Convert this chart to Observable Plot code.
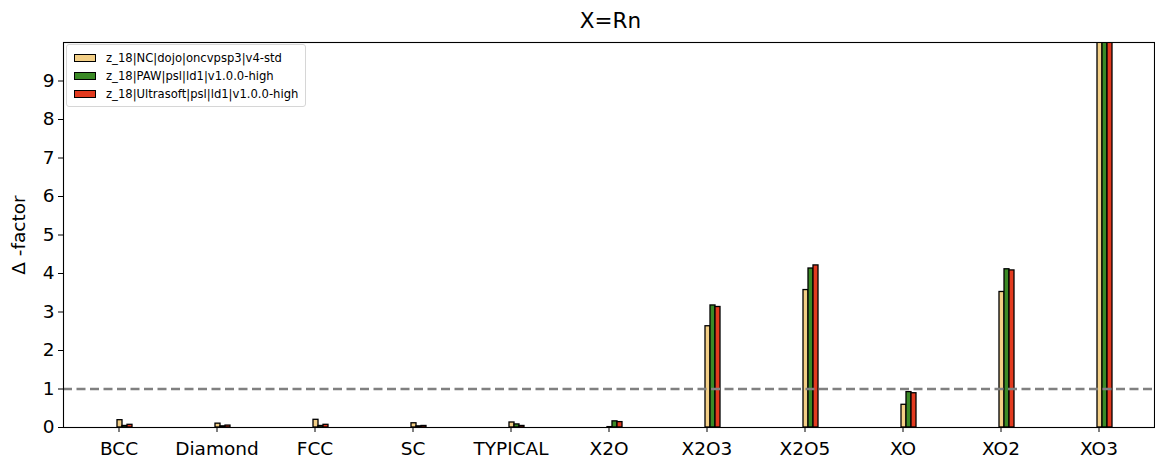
<!DOCTYPE html>
<html>
<head>
<meta charset="utf-8">
<script src="https://cdn.jsdelivr.net/npm/d3@7"></script>
<script src="https://cdn.jsdelivr.net/npm/@observablehq/plot@0.6"></script>
<style>
  html, body { margin: 0; padding: 0; background: #fff; }
  body { width: 1155px; height: 459px; overflow: hidden; font-family: "DejaVu Sans", sans-serif; }
  #wrap { position: relative; width: 1155px; }
  #title { height: 36px; box-sizing: border-box; padding-top: 6px; line-height: 30px; font-size: 21.5px; text-align: center; padding-left: 66px; color: #000; }
  #legend { position: absolute; left: 66px; top: 44px; width: 240px; box-sizing: border-box; border: 1px solid #d6d6d6; border-radius: 3px; background: rgba(255,255,255,0.8); padding: 4px 4px 3px 7px; font-size: 11.6px; color: #000; white-space: nowrap; overflow: hidden; }
  .item { display: flex; align-items: center; height: 18px; }
  .sw { width: 20px; height: 6px; border: 1.3px solid #000; margin-right: 10px; flex: none; }
  svg { display: block; }
</style>
</head>
<body>
<div id="wrap">
  <div id="title">X=Rn</div>
  <div id="chart"></div>
  <div id="legend"></div>
</div>
<script>
const categories = ["BCC", "Diamond", "FCC", "SC", "TYPICAL", "X2O", "X2O3", "X2O5", "XO", "XO2", "XO3"];
const seriesNames = [
  "z_18|NC|dojo|oncvpsp3|v4-std",
  "z_18|PAW|psl|ld1|v1.0.0-high",
  "z_18|Ultrasoft|psl|ld1|v1.0.0-high"
];
const seriesColors = ["#f3cf86", "#3b8a26", "#e23a1f"];
const ncValues        = [0.19, 0.10, 0.20, 0.11, 0.13, 0.01, 2.63, 3.57, 0.59, 3.52, 12.0];
const pawValues       = [0.04, 0.03, 0.04, 0.03, 0.08, 0.16, 3.17, 4.13, 0.92, 4.11, 14.0];
const ultrasoftValues = [0.07, 0.05, 0.07, 0.04, 0.04, 0.14, 3.13, 4.21, 0.89, 4.08, 14.0];
const yTicks = [0, 1, 2, 3, 4, 5, 6, 7, 8, 9];
const refLine = [1];

const allValues = [ncValues, pawValues, ultrasoftValues];
const rows = s => categories.map((c, i) => ({category: c, value: allValues[s][i]}));

const barW = 5;
const marks = [];
allValues.forEach((vals, s) => {
  marks.push(Plot.barY(rows(s), {
    x: "category", y: "value",
    fill: seriesColors[s], stroke: "#000", strokeWidth: 1.3,
    dx: s * barW + 1, clip: true
  }));
});
marks.push(Plot.ruleY(refLine, {stroke: "#808080", strokeWidth: 2.5, strokeDasharray: "9,4.5"}));
marks.push(Plot.frame({stroke: "#000", strokeWidth: 1.1}));

const chart = Plot.plot({
  width: 1155,
  height: 423,
  marginTop: 6,
  marginBottom: 32,
  marginLeft: 63,
  marginRight: 1,
  style: {fontFamily: "DejaVu Sans, sans-serif", fontSize: "18.5px", color: "#000", background: "#fff"},
  x: {domain: categories, paddingInner: 0.949, paddingOuter: 0.524, align: 0.5, label: null, tickSize: 5, tickPadding: 9},
  y: {domain: [0, 10], ticks: yTicks, tickFormat: d => String(d), label: "Δ -factor", labelAnchor: "center", labelArrow: "none", labelOffset: 52, tickSize: 5, tickPadding: 4},
  marks
});
document.getElementById("chart").appendChild(chart);

const legend = document.getElementById("legend");
seriesNames.forEach((name, s) => {
  const it = document.createElement("div");
  it.className = "item";
  const sw = document.createElement("div");
  sw.className = "sw";
  sw.style.background = seriesColors[s];
  const tx = document.createElement("span");
  tx.textContent = name;
  it.appendChild(sw); it.appendChild(tx);
  legend.appendChild(it);
});
</script>
</body>
</html>
